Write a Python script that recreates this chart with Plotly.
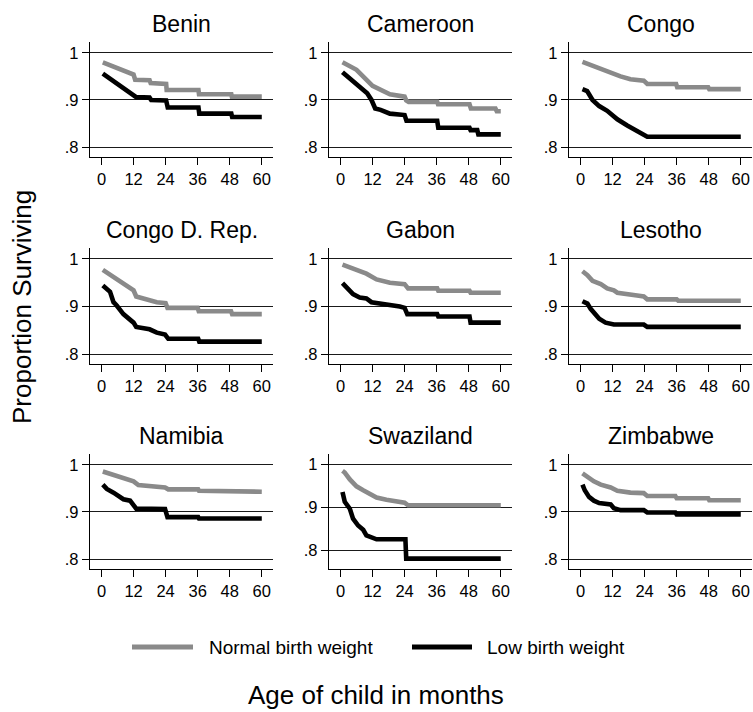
import plotly.graph_objects as go

countries = ["Benin", "Cameroon", "Congo", "Congo D. Rep.", "Gabon", "Lesotho",
             "Namibia", "Swaziland", "Zimbabwe"]

# Survival curves: (month, proportion surviving) points.
# A repeated/near month marks a drop of the Kaplan-Meier step.
normal_t = {
    "Benin": [0.5, 12, 12.6, 18, 18.4, 24.2, 24.4, 36.3, 36.5, 48.6, 48.8, 60],
    "Cameroon": [0.75, 6, 12, 14.7, 18.5, 24, 24.6, 25.5, 36.2, 36.5, 48.3, 48.8, 58, 58.5, 60],
    "Congo": [0.75, 3.8, 6.3, 11.3, 15, 18.7, 23.7, 25, 35.8, 36.2, 47.8, 48.2, 60],
    "Congo D. Rep.": [0.5, 4.5, 8.2, 12, 13, 17, 20.7, 24, 24.7, 36, 36.4, 48.5, 48.9, 60],
    "Gabon": [0.75, 6, 9.7, 13.5, 18.5, 24, 25.3, 36.2, 36.6, 48.3, 48.7, 60],
    "Lesotho": [0.75, 2.6, 4.5, 7.6, 10, 12.5, 13.8, 17.5, 21.2, 23.7, 25, 36, 36.6, 60],
    "Namibia": [0.5, 4.5, 8.2, 12, 13.8, 19.4, 23.8, 25, 36.2, 36.5, 48.3, 48.6, 60],
    "Swaziland": [0.75, 1.6, 3.5, 6, 8.5, 11, 13.5, 17.2, 21, 24, 25.3, 60],
    "Zimbabwe": [0.75, 2.6, 5, 7.6, 11.3, 13.8, 18.7, 23.7, 25, 35.5, 36, 47.8, 48.2, 60],
}
normal_s = {
    "Benin": [0.980, 0.954, 0.943, 0.942, 0.936, 0.934, 0.921, 0.921, 0.912, 0.912, 0.907, 0.907],
    "Cameroon": [0.980, 0.964, 0.930, 0.923, 0.912, 0.907, 0.899, 0.896, 0.896, 0.891, 0.891, 0.882, 0.882, 0.876, 0.876],
    "Congo": [0.981, 0.974, 0.969, 0.959, 0.950, 0.944, 0.941, 0.934, 0.934, 0.927, 0.927, 0.923, 0.923],
    "Congo D. Rep.": [0.977, 0.963, 0.949, 0.934, 0.921, 0.914, 0.909, 0.907, 0.897, 0.897, 0.890, 0.890, 0.884, 0.884],
    "Gabon": [0.988, 0.976, 0.969, 0.957, 0.950, 0.947, 0.938, 0.938, 0.933, 0.933, 0.929, 0.929],
    "Lesotho": [0.974, 0.966, 0.954, 0.947, 0.938, 0.934, 0.929, 0.927, 0.923, 0.921, 0.915, 0.915, 0.912, 0.912],
    "Namibia": [0.986, 0.979, 0.972, 0.965, 0.957, 0.954, 0.952, 0.948, 0.948, 0.945, 0.945, 0.943, 0.943],
    "Swaziland": [0.985, 0.981, 0.965, 0.949, 0.940, 0.932, 0.923, 0.918, 0.915, 0.911, 0.905, 0.905],
    "Zimbabwe": [0.982, 0.974, 0.965, 0.958, 0.952, 0.945, 0.941, 0.940, 0.934, 0.934, 0.929, 0.929, 0.925, 0.925],
}
low_t = {
    "Benin": [0.5, 12, 13, 18, 18.6, 24.2, 24.8, 36.3, 36.6, 48.6, 48.9, 60],
    "Cameroon": [0.75, 4, 6, 10, 11.6, 12.6, 13, 15, 18.5, 24, 24.7, 36.2, 36.6, 48.3, 48.7, 51.2, 51.6, 60],
    "Congo": [0.75, 2.5, 4.5, 7, 10, 13.8, 17.5, 21, 23.7, 25, 60],
    "Congo D. Rep.": [0.5, 2.2, 3.2, 4.5, 5.7, 8.2, 10.7, 12, 13, 15, 18, 20.7, 23.8, 25, 36.2, 36.6, 60],
    "Gabon": [0.75, 2.9, 4.7, 7.2, 9.7, 11.6, 14.7, 18.5, 22.2, 24, 25, 36.2, 36.6, 48.3, 48.7, 60],
    "Lesotho": [0.75, 2.6, 3.8, 5, 7, 9.4, 12.5, 23.7, 25, 60],
    "Namibia": [0.5, 2, 4.5, 7, 8.2, 10.7, 12, 13, 23.8, 24.7, 36.2, 36.5, 60],
    "Swaziland": [0.75, 1.6, 3.5, 4.7, 6.6, 8.5, 9.7, 11.6, 13.5, 24.3, 24.6, 60],
    "Zimbabwe": [0.75, 1.6, 3.2, 5, 7, 11.3, 12.5, 15, 23.7, 25, 35.5, 36, 60],
}
low_s = {
    "Benin": [0.956, 0.911, 0.906, 0.905, 0.900, 0.899, 0.884, 0.884, 0.871, 0.871, 0.864, 0.864],
    "Cameroon": [0.959, 0.943, 0.936, 0.914, 0.900, 0.884, 0.882, 0.879, 0.871, 0.868, 0.856, 0.856, 0.841, 0.841, 0.836, 0.836, 0.827, 0.827],
    "Congo": [0.923, 0.919, 0.900, 0.887, 0.877, 0.859, 0.846, 0.834, 0.825, 0.822, 0.822],
    "Congo D. Rep.": [0.944, 0.935, 0.931, 0.909, 0.902, 0.884, 0.871, 0.866, 0.857, 0.854, 0.852, 0.845, 0.841, 0.832, 0.832, 0.826, 0.826],
    "Gabon": [0.949, 0.938, 0.926, 0.919, 0.917, 0.909, 0.907, 0.904, 0.900, 0.897, 0.884, 0.884, 0.879, 0.879, 0.866, 0.866],
    "Lesotho": [0.911, 0.906, 0.895, 0.888, 0.874, 0.866, 0.862, 0.862, 0.857, 0.857],
    "Namibia": [0.958, 0.949, 0.941, 0.931, 0.927, 0.924, 0.916, 0.907, 0.906, 0.889, 0.889, 0.886, 0.886],
    "Swaziland": [0.936, 0.913, 0.897, 0.874, 0.858, 0.848, 0.835, 0.831, 0.826, 0.826, 0.781, 0.781],
    "Zimbabwe": [0.958, 0.946, 0.932, 0.924, 0.919, 0.916, 0.908, 0.904, 0.904, 0.899, 0.899, 0.895, 0.895],
}

x_ticks = [0, 12, 24, 36, 48, 60]
y_ticks = [0.8, 0.9, 1.0]
y_tick_labels = [".8", ".9", "1"]
series_names = ["Normal birth weight", "Low birth weight"]
series_colors = ["#8a8a8a", "#000000"]

W, H = 753, 712
FONT = "Liberation Sans, Arial, sans-serif"

col_px = [(90, 273), (329, 512), (569, 752)]
row_px = [(42, 157), (248, 364), (454, 569)]

fig = go.Figure()
layout = dict(
    width=W, height=H, autosize=False,
    margin=dict(l=0, r=0, t=0, b=0),
    paper_bgcolor="white", plot_bgcolor="white",
    showlegend=False,
    font=dict(family=FONT, color="black"),
)
annotations = []
shapes = []

for i, c in enumerate(countries):
    r, col = divmod(i, 3)
    idx = "" if i == 0 else str(i + 1)
    xa, ya = "x" + idx, "y" + idx
    x0, x1 = col_px[col]
    yt, yb = row_px[r]
    yrange = [0.757, 1.024] if c == "Swaziland" else [0.779, 1.023]
    layout["xaxis" + idx] = dict(
        domain=[x0 / W, x1 / W], anchor=ya, range=[-4.3, 64.2],
        tickvals=x_ticks, ticks="outside", ticklen=7, tickwidth=1.2,
        tickcolor="black", showline=True, linecolor="black", linewidth=1.3,
        showgrid=False, zeroline=False, tickfont=dict(size=16.5, family=FONT),
        fixedrange=True,
    )
    layout["yaxis" + idx] = dict(
        domain=[1 - yb / H, 1 - yt / H], anchor=xa, range=yrange,
        tickvals=y_ticks, ticktext=y_tick_labels, ticks="outside", ticklen=7,
        tickwidth=1.2, tickcolor="black", showline=True, linecolor="black",
        linewidth=1.3, showgrid=True, gridcolor="#1a1a1a", gridwidth=1,
        zeroline=False, tickfont=dict(size=16.5, family=FONT), fixedrange=True,
    )
    for name, color, tt, ss in [
        (series_names[0], series_colors[0], normal_t[c], normal_s[c]),
        (series_names[1], series_colors[1], low_t[c], low_s[c]),
    ]:
        fig.add_trace(go.Scatter(
            x=tt, y=ss, mode="lines", line=dict(color=color, width=4.6, shape="linear"),
            name=name, xaxis=xa, yaxis=ya, showlegend=False,
        ))
    annotations.append(dict(
        text=c, x=(x0 + x1) / 2 / W, y=1 - (yt - 18) / H, xref="paper", yref="paper",
        xanchor="center", yanchor="middle", showarrow=False,
        font=dict(size=23, family=FONT, color="black"),
    ))

# legend (manual, below the grid)
leg_y = 1 - 647 / H
for (lx0, lx1, tx), name, color in zip([(132, 193, 207), (412, 472, 485)], series_names, series_colors):
    shapes.append(dict(type="line", xref="paper", yref="paper", x0=lx0 / W, x1=lx1 / W,
                       y0=leg_y, y1=leg_y, line=dict(color=color, width=5)))
    annotations.append(dict(text=name, x=tx / W, y=leg_y, xref="paper", yref="paper",
                            xanchor="left", yanchor="middle", showarrow=False,
                            font=dict(size=19, family=FONT, color="black")))

annotations.append(dict(text="Age of child in months", x=376 / W, y=1 - 695 / H,
                        xref="paper", yref="paper", xanchor="center", yanchor="middle",
                        showarrow=False, font=dict(size=26, family=FONT, color="black")))
annotations.append(dict(text="Proportion Surviving", x=22 / W, y=1 - 307 / H,
                        xref="paper", yref="paper", xanchor="center", yanchor="middle",
                        textangle=-90, showarrow=False,
                        font=dict(size=26, family=FONT, color="black")))

layout["annotations"] = annotations
layout["shapes"] = shapes
fig.update_layout(**layout)
fig.write_html(
    "out.html",
    config={"displayModeBar": False},
    post_script="document.body.style.margin='0';document.body.style.padding='0';"
                "document.body.style.overflow='hidden';"
                "document.documentElement.style.overflow='hidden';",
)
